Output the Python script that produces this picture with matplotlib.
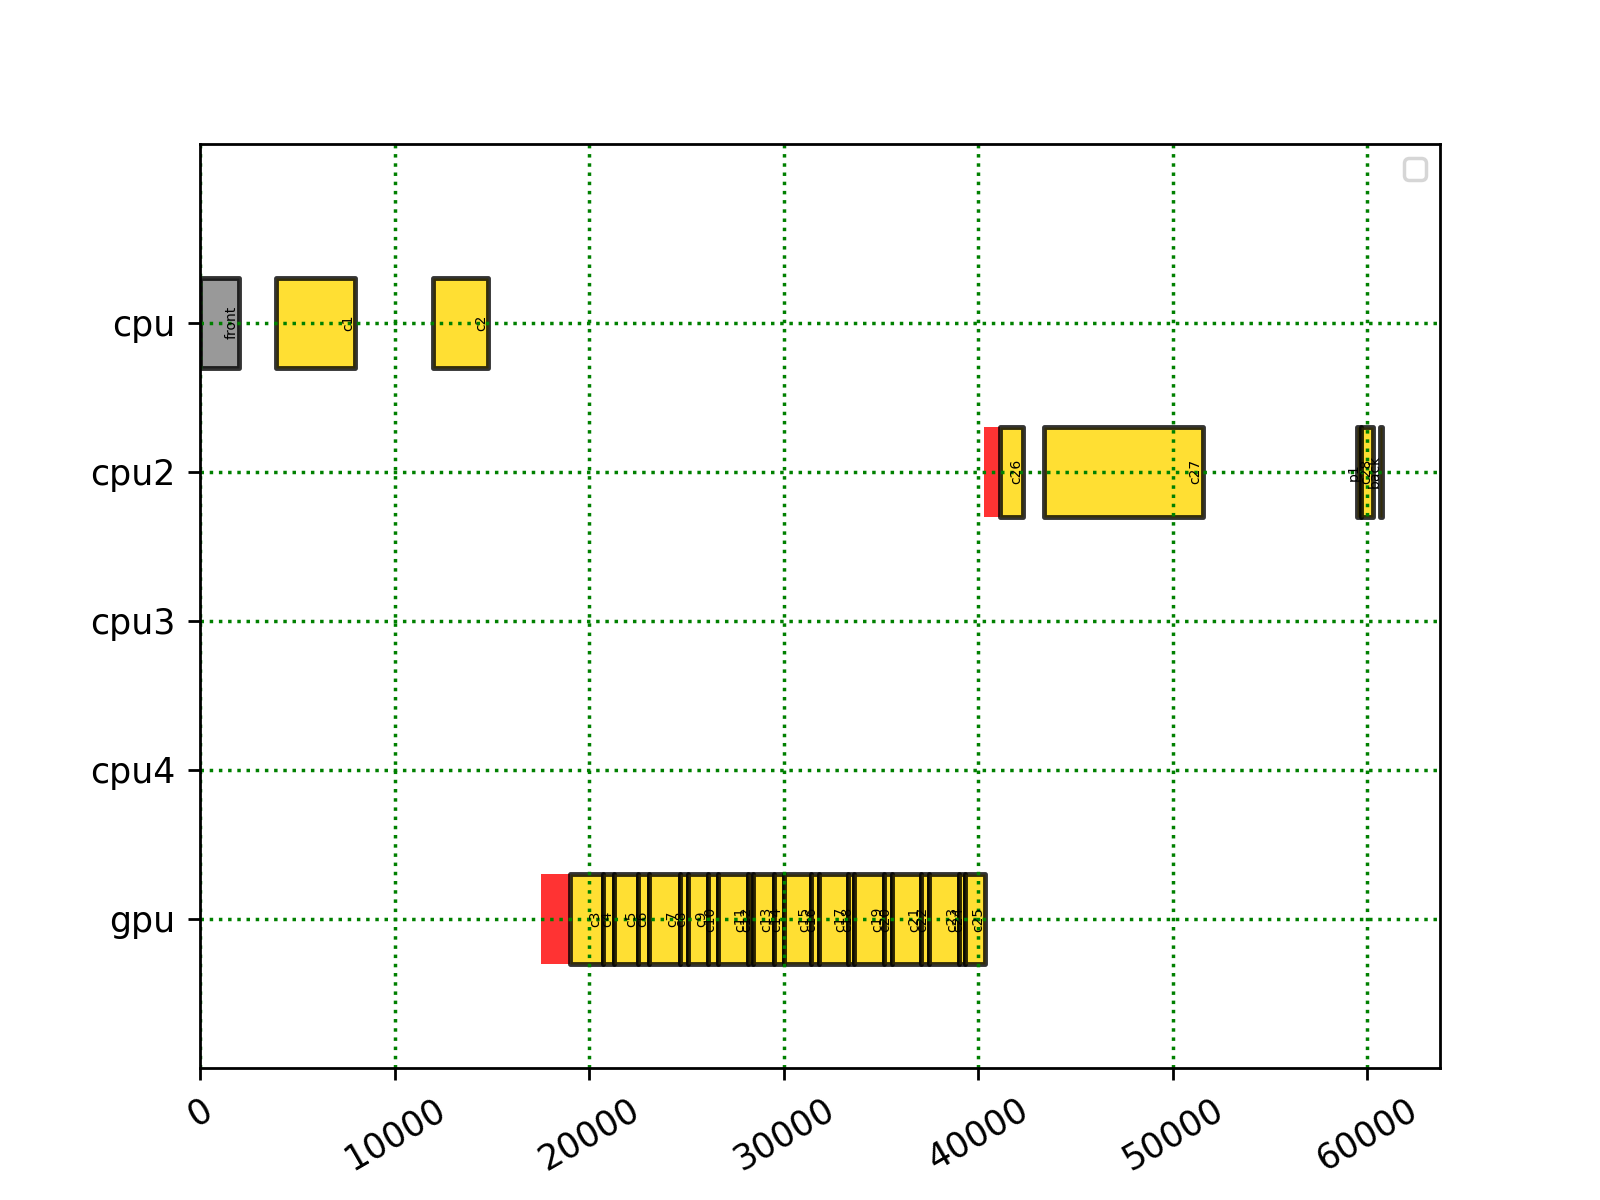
import matplotlib
matplotlib.use("Agg")
import matplotlib.pyplot as plt

# rows of the timeline (bottom to top)
rows = ["gpu", "cpu4", "cpu3", "cpu2", "cpu"]
row_pos = [10, 20, 30, 40, 50]

# tasks: (row, start, end, label, kind)
task_rows = ["cpu", "cpu", "cpu",
             "gpu", "gpu", "gpu", "gpu", "gpu", "gpu", "gpu", "gpu", "gpu", "gpu", "gpu", "gpu",
             "gpu", "gpu", "gpu", "gpu", "gpu", "gpu", "gpu", "gpu", "gpu", "gpu", "gpu",
             "cpu2", "cpu2", "cpu2", "cpu2", "cpu2"]
task_start = [0, 3900, 12000,
              19000, 20700, 21300, 22500, 23100, 24650, 25080, 26110, 26600, 28150, 28420, 29480,
              30000, 31420, 31800, 33290, 33640, 35180, 35570, 37060, 37490, 39000, 39340,
              41100, 43380, 59450, 59650, 60650]
task_end = [1990, 7980, 14800,
            20700, 21300, 22500, 23100, 24650, 25080, 26110, 26600, 28150, 28420, 29480, 30000,
            31420, 31800, 33290, 33640, 35180, 35570, 37060, 37490, 39000, 39340, 40370,
            42320, 51530, 59650, 60300, 60740]
task_names = ["front", "c1", "c2",
              "c3", "c4", "c5", "c6", "c7", "c8", "c9", "c10", "c11", "c12", "c13", "c14",
              "c15", "c16", "c17", "c18", "c19", "c20", "c21", "c22", "c23", "c24", "c25",
              "c26", "c27", "p1", "c28", "back"]
task_kind = ["front"] + ["comp"] * 30

# transfers (red, no edge)
xfer_rows = ["gpu", "cpu2"]
xfer_start = [17540, 40320]
xfer_end = [19000, 41100]

colors = {"front": "gray", "comp": "gold"}

fig, ax = plt.subplots(figsize=(6.4, 4.8), dpi=250)

ypos = dict(zip(rows, row_pos))

for r, s, e in zip(xfer_rows, xfer_start, xfer_end):
    ax.broken_barh([(s, e - s)], (ypos[r] - 3, 6), facecolors="red", alpha=0.8)

for r, s, e, name, kind in zip(task_rows, task_start, task_end, task_names, task_kind):
    ax.broken_barh([(s, e - s)], (ypos[r] - 3, 6), facecolors=colors[kind],
                   edgecolor="black", linewidth=1.4, alpha=0.8)
    ax.text(e, ypos[r], name, rotation=90, ha="right", va="center", fontsize=4)

ax.set_ylim(0, 62)
ax.set_xlim(0, 63735)
ax.set_yticks(row_pos)
ax.set_yticklabels(rows)
ax.grid(color="g", linestyle=":", linewidth=1)
plt.setp(ax.get_xticklabels(), rotation=30)
ax.legend(fontsize=8)

fig.savefig("out.png")
